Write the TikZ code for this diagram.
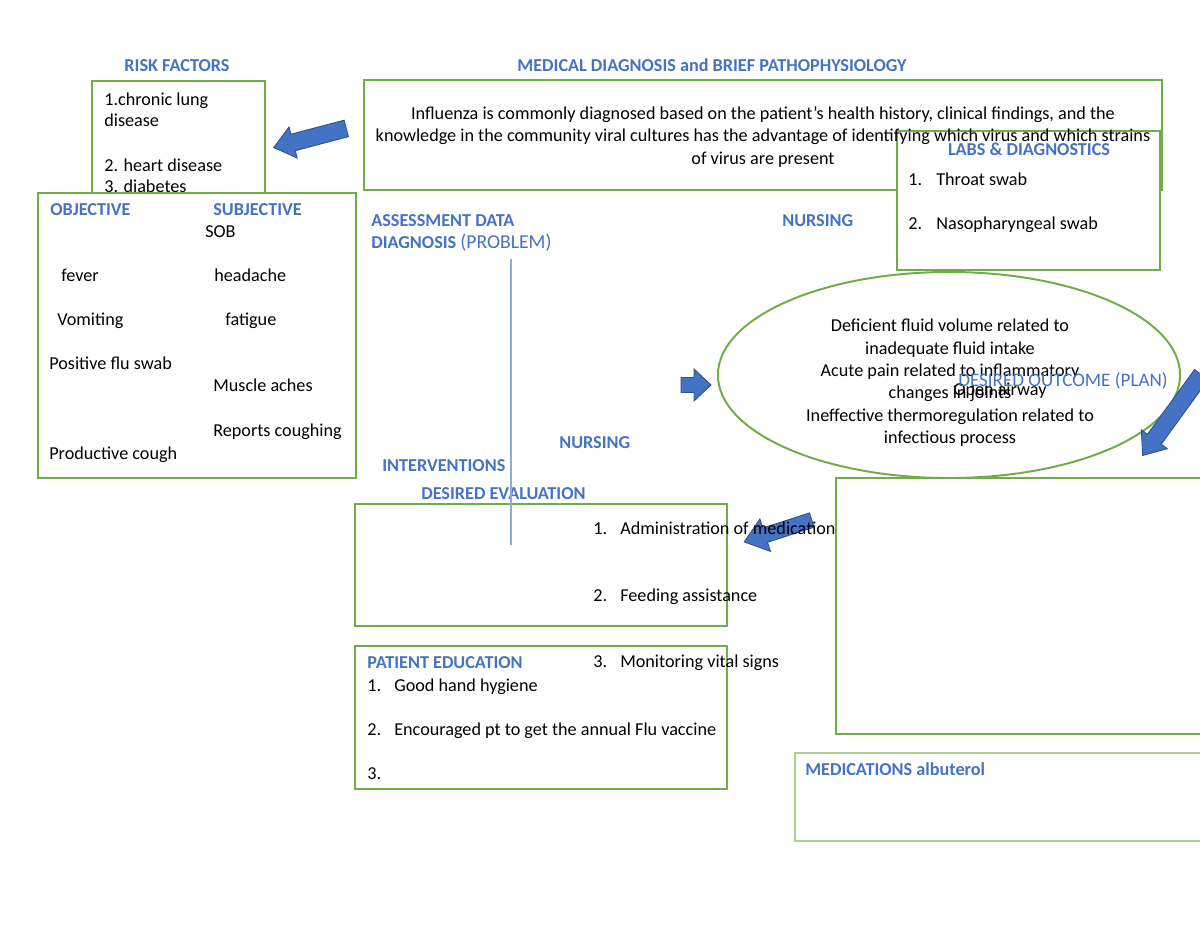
\documentclass[tikz,border=0pt]{standalone}
\usepackage{fontspec}
\setmainfont{Carlito}
\usepackage{tikz}
\usetikzlibrary{shapes.geometric}
\definecolor{headblue}{HTML}{4472C4}
\definecolor{boxgreen}{HTML}{70AD47}
\definecolor{lightgreen}{HTML}{A9D18E}
\definecolor{arrowedge}{HTML}{2F528F}
\definecolor{lineblue}{HTML}{8FAADC}
\def\txtsize{\fontsize{12}{14}\selectfont}
% block arrow: centre, angle, length, head width, shaft width, head length
\def\blockarrow#1#2#3#4#5#6{%
	\begin{scope}[shift={#1},rotate=#2]
		\draw[block arrow] ({-#3/2},{#5/2}) -- ({#3/2-#6},{#5/2}) -- ({#3/2-#6},{#4/2}) -- ({#3/2},0)
		-- ({#3/2-#6},{-#4/2}) -- ({#3/2-#6},{-#5/2}) -- ({-#3/2},{-#5/2}) -- cycle;
	\end{scope}}

\begin{document}
\begin{tikzpicture}[x=0.66pt,y=-0.66pt,font=\txtsize]
	\tikzstyle{box}=[draw=boxgreen,line width=1.3pt]
	\tikzstyle{white box}=[box,fill=white]
	\tikzstyle{head}=[text=headblue,font=\txtsize\bfseries,inner sep=0pt]
	\tikzstyle{item}=[inner sep=0pt,anchor=base west]
	\tikzstyle{centred}=[inner sep=0pt,anchor=base]
	\tikzstyle{block arrow}=[fill=headblue,draw=arrowedge,line width=0.6pt,line join=miter]
	
	\useasboundingbox (0,0) rectangle (1200,927);
	\clip (0,0) rectangle (1200,927);
	
	% Draw the risk factors
	\node[head,anchor=base] (risk) at (177,71) {RISK FACTORS};
	\draw[box] (92,81) rectangle (265,210);
	\foreach \y/\t [count=\i] in {105/1.chronic lung,126/disease,171/2. heart disease,192/3. diabetes}
	\node[item] (risk-\i) at (104,\y) {\t};
	
	% Draw the medical diagnosis and the labs
	\node[head,anchor=base] (md) at (712,71) {MEDICAL DIAGNOSIS and BRIEF PATHOPHYSIOLOGY};
	\draw[box] (364,80) rectangle (1162,190);
	\draw[white box] (897,131) rectangle (1160,270);
	\foreach \y/\t [count=\i] in {119/{Influenza is commonly diagnosed based on the patient’s health history, clinical findings, and the},
		141/{knowledge in the community viral cultures has the advantage of identifying which virus and which strains},
		164/{of virus are present}}
	\node[centred] (md-\i) at (763,\y) {\t};
	\node[head,anchor=base] (labs) at (1029,155) {LABS \& DIAGNOSTICS};
	\foreach \y/\t [count=\i] in {185/Throat swab,229/Nasopharyngeal swab}
	{
		\node[item] (labno-\i) at (908,\y) {\i.};
		\node[item] (lab-\i) at (936,\y) {\t};
	}
	
	% Draw the objective and subjective data
	\draw[white box] (38,193) rectangle (356,478);
	\node[head,anchor=base west] (obj) at (50,215) {OBJECTIVE};
	\node[head,anchor=base west] (subj) at (213,215) {SUBJECTIVE};
	\foreach \x/\y/\t [count=\i] in {205/237/SOB,61/281/fever,214/281/headache,57/325/Vomiting,225/325/fatigue,
		49/369/Positive flu swab,213/391/Muscle aches,213/436/Reports coughing,49/459/Productive cough}
	\node[item] (data-\i) at (\x,\y) {\t};
	
	% Annotate the columns
	\node[head,anchor=base west] (assess) at (371,226) {ASSESSMENT DATA};
	\node[head,anchor=base west] (diag) at (371,248) {DIAGNOSIS {\mdseries\fontsize{13}{14}\selectfont(PROBLEM)}};
	\node[head,anchor=base west] (nurs1) at (782,226) {NURSING};
	\node[head,anchor=base west] (nurs2) at (559,448) {NURSING};
	\node[head,anchor=base west] (interv) at (382,471) {INTERVENTIONS};
	\node[head,anchor=base west] (evalh) at (421,499) {DESIRED EVALUATION};
	
	% Draw the nursing diagnosis
	\node[ellipse,draw=boxgreen,line width=1.3pt,minimum width=305pt,minimum height=136pt] (dx) at (949,375) {};
	\foreach \y/\t [count=\i] in {331/Deficient fluid volume related to,354/inadequate fluid intake,
		376/Acute pain related to inflammatory,398/changes in joints,
		421/Ineffective thermoregulation related to,443/infectious process}
	\node[centred] (dx-\i) at (950,\y) {\t};
	\node[centred] (airway) at (1000,395) {Open airway};
	\node[centred,text=headblue,font=\fontsize{12.6}{14}\selectfont] (plan) at (1063,386) {DESIRED OUTCOME (PLAN)};
	
	% Draw the outcome, evaluation and education boxes
	\draw[white box] (836,478) rectangle (1215,734);
	\draw[box] (355,504) rectangle (727,626);
	\draw[box] (355,646) rectangle (727,789);
	\draw[draw=lightgreen,line width=1pt] (795,753) rectangle (1215,841);
	\node[head,anchor=base west] (meds) at (805,775) {MEDICATIONS albuterol};
	
	% Draw the block arrows
	\blockarrow{(310,138)}{194.8}{75}{32}{17}{20}
	\blockarrow{(696,385)}{0}{30}{32}{15}{17}
	\blockarrow{(1172,415)}{234}{100}{32}{17}{20}
	\blockarrow{(778,531)}{197.9}{71}{34}{15}{22}
	
	% Interventions
	\foreach \y/\t [count=\i] in {534/Administration of medication,601/Feeding assistance,667/Monitoring vital signs}
	{
		\node[item] (intno-\i) at (593,\y) {\i.};
		\node[item] (int-\i) at (620,\y) {\t};
	}
	
	% Patient education
	\node[head,anchor=base west] (edu) at (367,668) {PATIENT EDUCATION};
	\foreach \y/\t [count=\i] in {691/Good hand hygiene,735/Encouraged pt to get the annual Flu vaccine,779/{}}
	{
		\node[item] (eduno-\i) at (367,\y) {\i.};
		\node[item] (edu-\i) at (394,\y) {\t};
	}
	
	% Column divider
	\coordinate (div-top) at (511,259);
	\coordinate (div-bot) at (511,545);
	\draw[lineblue,line width=0.8pt] (div-top) -- (div-bot);
	
\end{tikzpicture}
\end{document}
